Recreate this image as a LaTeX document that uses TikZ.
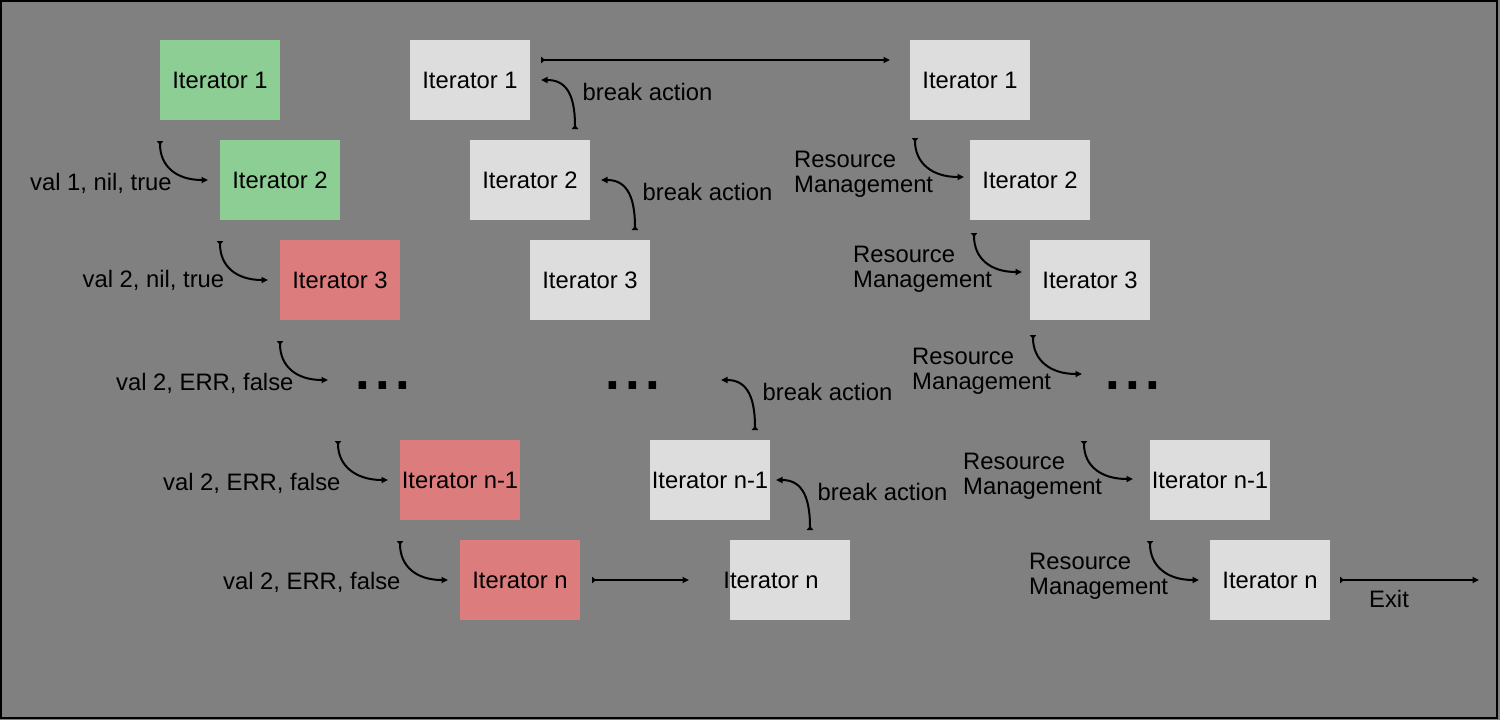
\documentclass[tikz,border=0pt]{standalone}
\usepackage{fontspec}
\setmainfont{Liberation Sans}
\usetikzlibrary{arrows.meta}
\definecolor{bggray}{HTML}{808080}
\definecolor{boxgray}{HTML}{DDDDDD}
\definecolor{okgreen}{HTML}{8DCE94}
\definecolor{errred}{HTML}{DD7C7C}
\tikzset{
  every node/.style={font=\fontsize{23.8pt}{25pt}\selectfont, text=black},
  iterbox/.style={minimum width=120pt, minimum height=80pt, inner sep=0pt, fill=#1},
  iterbox/.default=boxgray,
  lbl/.style={anchor=base west, inner sep=0pt},
  mlbl/.style={anchor=base west, inner sep=0pt, align=left},
  flow/.style={line width=2pt, draw=black,
    arrows={Triangle[reversed,width=6.5pt,length=4pt]-Triangle[width=6pt,length=6.5pt]}},
  dotsnode/.style={anchor=base west, inner sep=0pt, font=\fontsize{53pt}{53pt}\selectfont\bfseries}
}
\begin{document}
\begin{tikzpicture}[x=1pt,y=-1pt]
\useasboundingbox (0,0) rectangle (1500,720);
\fill[bggray] (0,0) rectangle (1500,720);
\draw[line width=2pt] (1,1) rectangle (1497,718);

% ---------- left column ----------
\node[iterbox=okgreen] (g1) at (220,80) {Iterator 1};
\node[iterbox=okgreen] (g2) at (280,180) {Iterator 2};
\node[iterbox=errred] (g3) at (340,280) {Iterator 3};
\node[dotsnode] (gd) at (355.5,389) {.\hspace{5.3pt}.\hspace{5.3pt}.};
\node[iterbox=errred] (g4) at (460,480) {Iterator n-1};
\node[iterbox=errred] (g5) at (520,580) {Iterator n};

\coordinate (a1s) at (160,141); \coordinate (a1e) at (208,180);
\coordinate (a2s) at (220,241); \coordinate (a2e) at (268,280);
\coordinate (a3s) at (280,341); \coordinate (a3e) at (328,380);
\coordinate (a4s) at (338,441); \coordinate (a4e) at (388,480);
\coordinate (a5s) at (400,541); \coordinate (a5e) at (448,580);
\foreach \i in {1,...,5}{
  \draw[flow] (a\i s) .. controls +(0,25) and +(-32,0) .. (a\i e);
}
\node[lbl] (la1) at (30,190) {val 1, nil, true};
\node[lbl] (la2) at (82.5,287) {val 2, nil, true};
\node[lbl] (la3) at (116,390) {val 2, ERR, false};
\node[lbl] (la4) at (163,490) {val 2, ERR, false};
\node[lbl] (la5) at (223,589) {val 2, ERR, false};

% ---------- middle column ----------
\node[iterbox] (m1) at (470,80) {Iterator 1};
\node[iterbox] (m2) at (530,180) {Iterator 2};
\node[iterbox] (m3) at (590,280) {Iterator 3};
\node[dotsnode] (md) at (605.5,389) {.\hspace{5.3pt}.\hspace{5.3pt}.};
\node[iterbox] (m4) at (710,480) {Iterator n-1};
\node[iterbox] (m5) at (790,580) {\hspace*{-38pt}Iterator n};

\coordinate (b1s) at (575,129); \coordinate (b1e) at (541,80);
\coordinate (b2s) at (635,230); \coordinate (b2e) at (601,180);
\coordinate (b3s) at (755,430); \coordinate (b3e) at (721,380);
\coordinate (b4s) at (810,530); \coordinate (b4e) at (776,480);
\foreach \i in {1,...,4}{
  \draw[flow] (b\i s) .. controls +(0,-38) and +(23,0) .. (b\i e);
}
\node[lbl] (lb1) at (582.5,100) {break action};
\node[lbl] (lb2) at (642.5,200) {break action};
\node[lbl] (lb3) at (762.5,400) {break action};
\node[lbl] (lb4) at (817.5,500) {break action};

% ---------- right column ----------
\node[iterbox] (w1) at (970,80) {Iterator 1};
\node[iterbox] (w2) at (1030,180) {Iterator 2};
\node[iterbox] (w3) at (1090,280) {Iterator 3};
\node[dotsnode] (wd) at (1105.5,389) {.\hspace{5.3pt}.\hspace{5.3pt}.};
\node[iterbox] (w4) at (1210,480) {Iterator n-1};
\node[iterbox] (w5) at (1270,580) {Iterator n};

\coordinate (c1s) at (915,138);  \coordinate (c1e) at (964,177);
\coordinate (c2s) at (974,233);  \coordinate (c2e) at (1022,272);
\coordinate (c3s) at (1033,335); \coordinate (c3e) at (1082,374);
\coordinate (c4s) at (1084,441); \coordinate (c4e) at (1133,479);
\coordinate (c5s) at (1150,541); \coordinate (c5e) at (1199,580);
\foreach \i in {1,...,5}{
  \draw[flow] (c\i s) .. controls +(0,25) and +(-32,0) .. (c\i e);
}
\node[mlbl] (lc1) at (794,192) {Resource\\Management};
\node[mlbl] (lc2) at (853,287) {Resource\\Management};
\node[mlbl] (lc3) at (912,389) {Resource\\Management};
\node[mlbl] (lc4) at (963,494) {Resource\\Management};
\node[mlbl] (lc5) at (1029,594) {Resource\\Management};

% ---------- straight connectors ----------
\coordinate (t1s) at (541,60); \coordinate (t1e) at (890,60);
\draw[flow] (t1s) -- (t1e);
\coordinate (t2s) at (592,580); \coordinate (t2e) at (689,580);
\draw[flow] (t2s) -- (t2e);
\coordinate (t3s) at (1340,580); \coordinate (t3e) at (1479,580);
\draw[flow] (t3s) -- (t3e);
\node[lbl] (lexit) at (1369,607) {Exit};
\end{tikzpicture}
\end{document}
